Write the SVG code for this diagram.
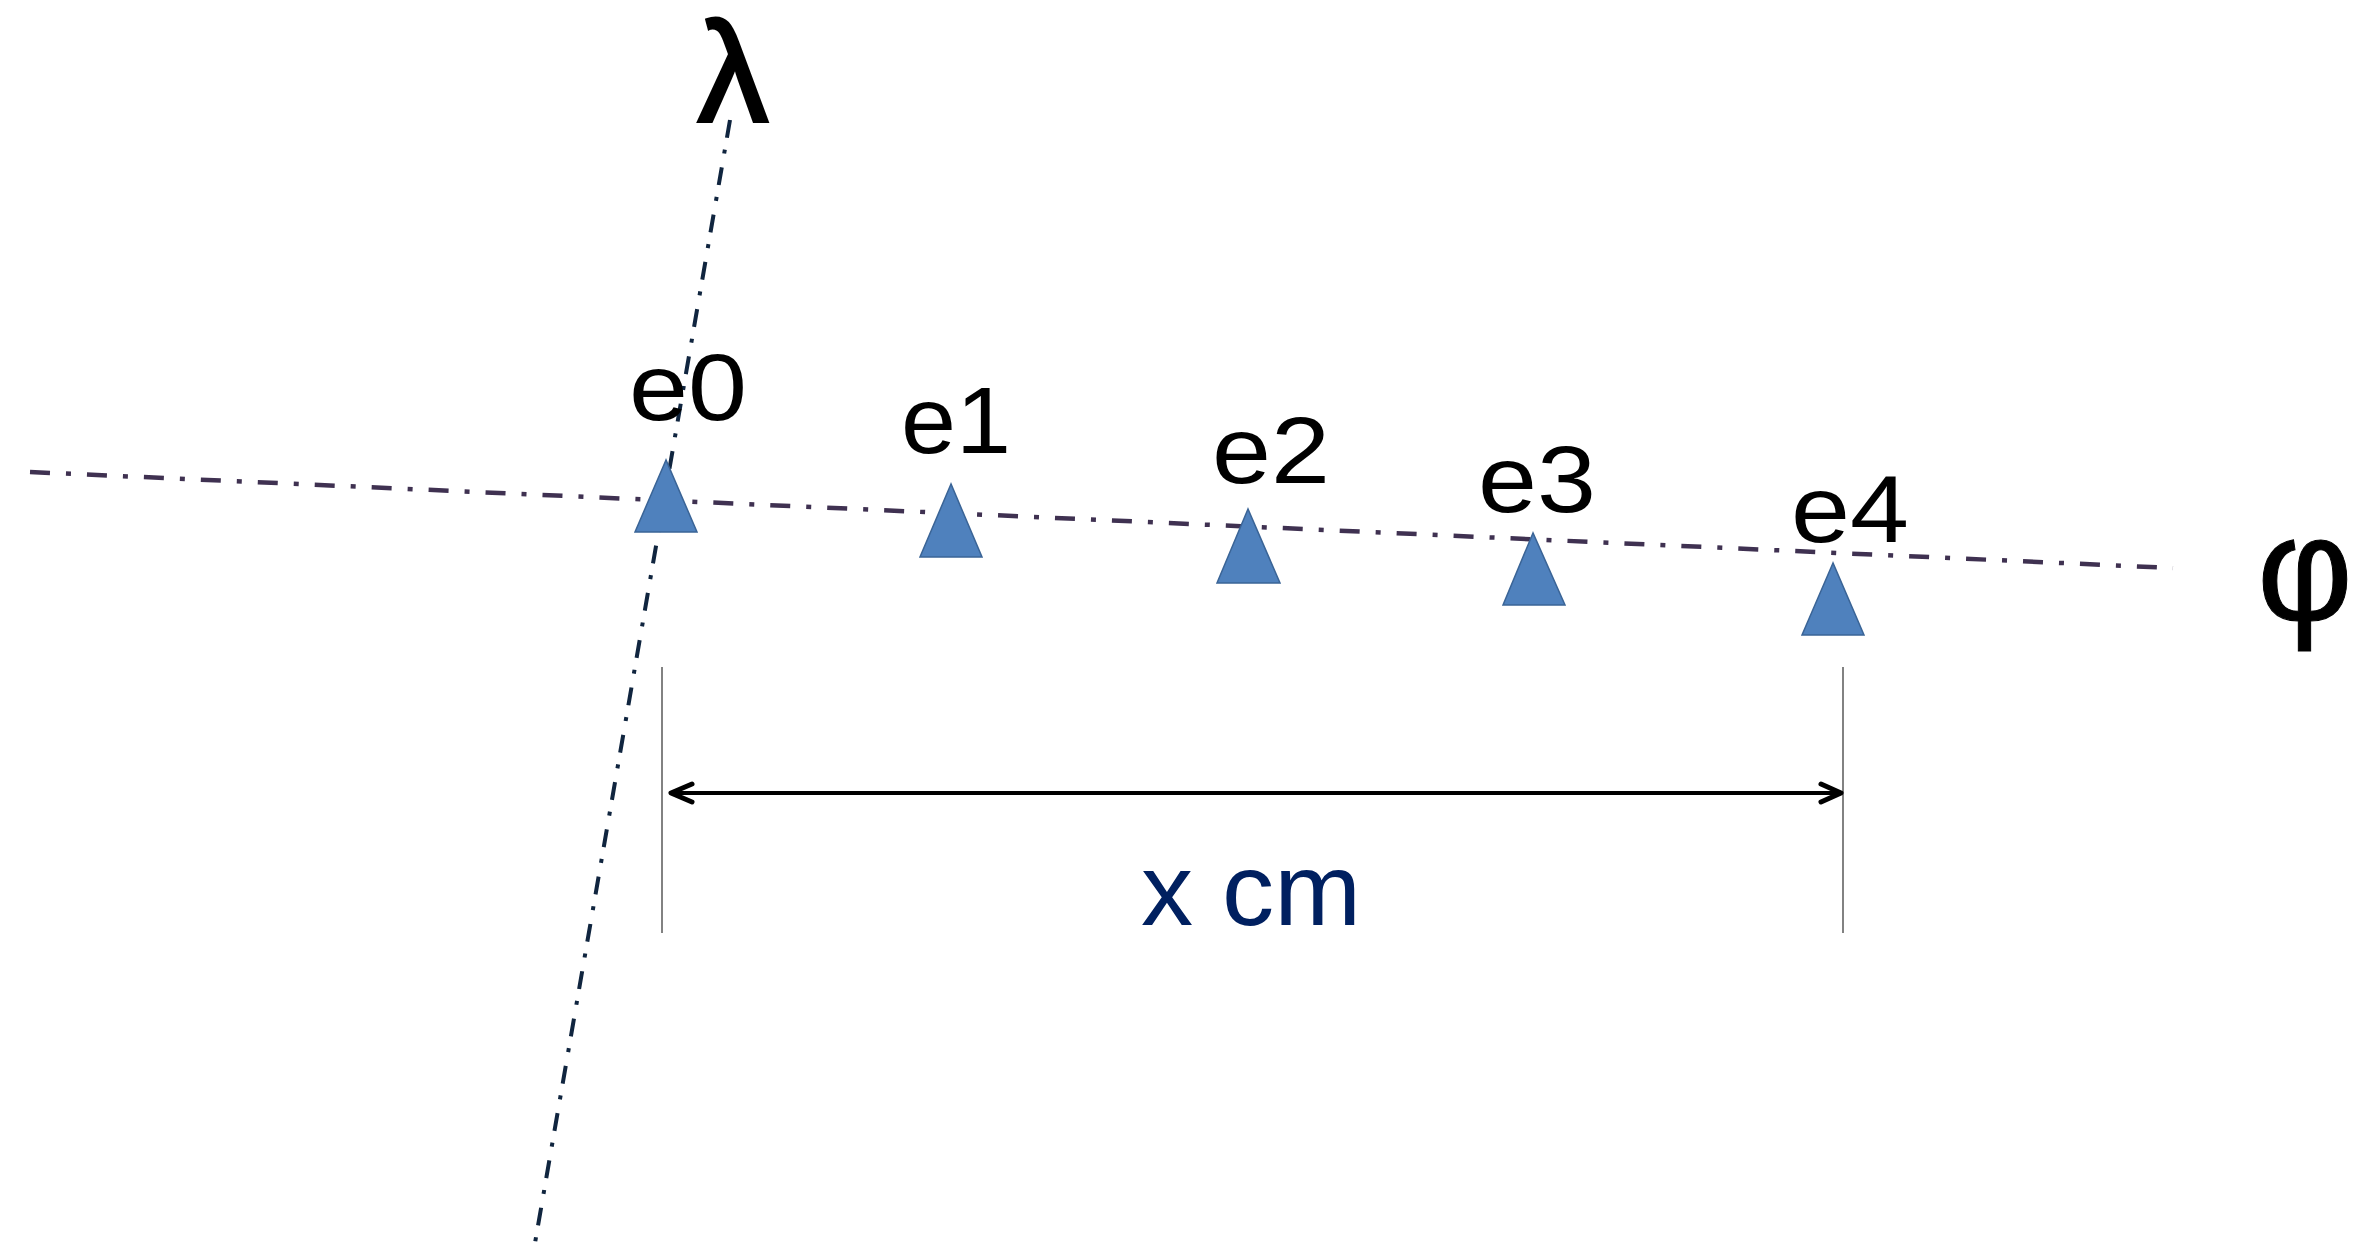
<svg xmlns="http://www.w3.org/2000/svg" width="2355" height="1243" viewBox="0 0 2355 1243">
<style>
.lbl{font-family:"Liberation Sans",Arial,sans-serif;font-size:95px;fill:#000}
.greek{font-family:"Liberation Sans",Arial,sans-serif;fill:#000}
.tri{fill:#4f81bd;stroke:#3a6496;stroke-width:1.5}
</style>
<rect width="2355" height="1243" fill="#fff"/>
<g id="connectors">
<line x1="30" y1="472" x2="2173" y2="568" stroke="#3f3151" stroke-width="4.5" stroke-dasharray="20 16 5 16"/>
<line x1="730" y1="120" x2="535" y2="1243" stroke="#10253f" stroke-width="4" stroke-dasharray="18 12 4 14"/>
<line x1="662" y1="667" x2="662" y2="933" stroke="#595959" stroke-width="1.5"/>
<line x1="1843" y1="667" x2="1843" y2="933" stroke="#595959" stroke-width="1.5"/>
<line x1="672" y1="793" x2="1838" y2="793" stroke="#000" stroke-width="4"/>
<polyline points="692,784 671,793 692,802" fill="none" stroke="#000" stroke-width="5" stroke-linecap="round" stroke-linejoin="round"/>
<polyline points="1821,784 1841,793 1821,802" fill="none" stroke="#000" stroke-width="5" stroke-linecap="round" stroke-linejoin="round"/>
</g>
<g id="axis-lambda"><text class="greek" x="733" y="122" text-anchor="middle" font-size="142" stroke="#000" stroke-width="3">λ</text></g>
<g id="axis-phi"><text class="greek" x="2257" y="620" font-size="148" stroke="#000" stroke-width="1">φ</text></g>
<g id="e0"><polygon class="tri" points="666,460 635,532 697,532"/><text class="lbl" x="629" y="420" textLength="118" lengthAdjust="spacingAndGlyphs">e0</text></g>
<g id="e1"><polygon class="tri" points="951,484 920,557 982,557"/><text class="lbl" x="901" y="453" textLength="110" lengthAdjust="spacingAndGlyphs">e1</text></g>
<g id="e2"><polygon class="tri" points="1248,509 1217,583 1280,583"/><text class="lbl" x="1212" y="483" textLength="118" lengthAdjust="spacingAndGlyphs">e2</text></g>
<g id="e3"><polygon class="tri" points="1533,533 1503,605 1565,605"/><text class="lbl" x="1478" y="512" textLength="118" lengthAdjust="spacingAndGlyphs">e3</text></g>
<g id="e4"><polygon class="tri" points="1833,563 1802,635 1864,635"/><text class="lbl" x="1791" y="542" textLength="118" lengthAdjust="spacingAndGlyphs">e4</text></g>
<g id="dimension-label"><text x="1141" y="925" textLength="220" lengthAdjust="spacingAndGlyphs" style="font-family:'Liberation Sans',Arial,sans-serif;font-size:102px;fill:#002060">x cm</text></g>
</svg>
